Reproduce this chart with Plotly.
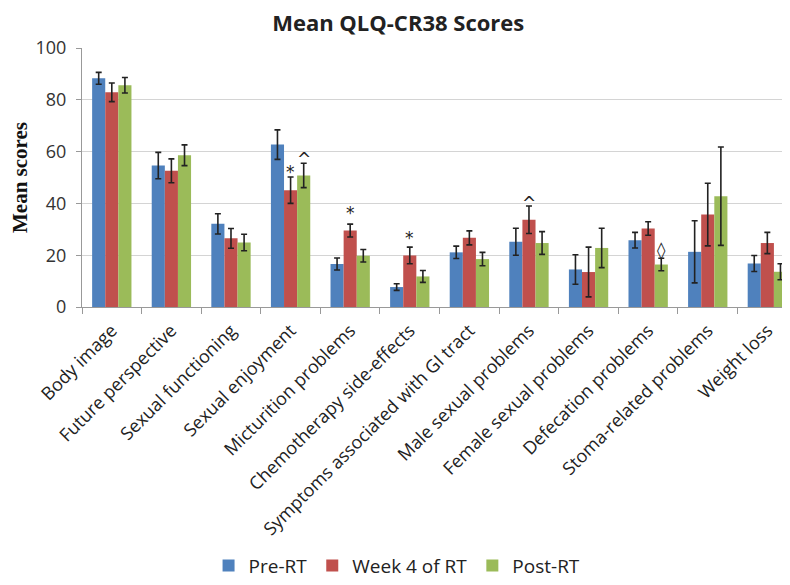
import plotly.graph_objects as go

categories = ["Body image", "Future perspective", "Sexual functioning", "Sexual enjoyment",
              "Micturition problems", "Chemotherapy side-effects", "Symptoms associated with GI tract",
              "Male sexual problems", "Female sexual problems", "Defecation problems",
              "Stoma-related problems", "Weight loss"]

pre_rt = [88.3, 54.6, 32.1, 62.7, 16.6, 7.7, 21.1, 25.2, 14.5, 25.8, 21.3, 16.8]
pre_rt_err = [2.3, 5.1, 3.9, 5.7, 2.3, 1.3, 2.4, 5.2, 5.7, 3.0, 12.0, 3.1]
week4 = [82.9, 52.6, 26.5, 45.1, 29.5, 19.9, 26.7, 33.7, 13.5, 30.3, 35.7, 24.7]
week4_err = [3.6, 4.6, 3.8, 5.1, 2.5, 3.2, 2.7, 5.3, 9.6, 2.6, 12.1, 4.1]
post_rt = [85.6, 58.6, 24.9, 50.8, 19.8, 11.8, 18.5, 24.7, 22.8, 16.4, 42.8, 13.6]
post_rt_err = [3.0, 4.0, 3.2, 4.7, 2.4, 2.3, 2.6, 4.4, 7.6, 2.4, 19.0, 3.1]

# significance markers
marker_cats = ["Sexual enjoyment", "Sexual enjoyment", "Micturition problems",
               "Chemotherapy side-effects", "Male sexual problems", "Defecation problems"]
marker_series = [0, 1, 0, 0, 0, 1]  # 0 = Week 4 of RT, 1 = Post-RT
marker_text = ["*", "^", "*", "*", "^", "◊"]
marker_y = [53.6, 58.7, 37.9, 28.2, 41.8, 23.4]

series = [("Pre-RT", pre_rt, pre_rt_err, "#4F81BD"),
          ("Week 4 of RT", week4, week4_err, "#C0504D"),
          ("Post-RT", post_rt, post_rt_err, "#9BBB59")]

fig = go.Figure()
for name, vals, errs, col in series:
    fig.add_trace(go.Bar(
        name=name, x=categories, y=vals, marker_color=col, marker_line_width=0,
        error_y=dict(type="data", array=errs, visible=True, color="#222222", thickness=1.6, width=3),
    ))

for c, s, t, yv in zip(marker_cats, marker_series, marker_text, marker_y):
    fig.add_annotation(x=c, y=yv, text=t, showarrow=False, xshift=13 * s, yshift=-4,
                       font=dict(family="DejaVu Sans", size=17, color="#222222"))

# the page body has an 8px margin, so the figure is sized/offset to compensate
fig.update_layout(
    width=782, height=577,
    margin=dict(l=74, r=0, t=40, b=278),
    paper_bgcolor="white", plot_bgcolor="white",
    barmode="group", bargap=0.34, bargroupgap=0,
    title=dict(text="<b>Mean QLQ-CR38 Scores</b>", x=0.499, xanchor="center", y=0.973, yanchor="middle",
               font=dict(family="Open Sans", size=22, color="#222222")),
    legend=dict(orientation="h", x=0.445, xanchor="center", y=-1.072, yanchor="bottom",
                font=dict(family="Open Sans", size=19, color="#222222"), itemwidth=30,
                traceorder="normal", borderwidth=0),
    font=dict(family="Open Sans", color="#333333"),
)

fig.update_xaxes(
    type="category", range=[-0.5, 11.38], tickangle=-45, tickson="boundaries",
    ticks="outside", ticklen=6, tickcolor="#999999",
    showline=True, linecolor="#999999", linewidth=1, ticklabelstandoff=5,
    tickfont=dict(family="Open Sans", size=18, color="#222222"),
    showgrid=False, automargin=False,
)
fig.update_yaxes(
    range=[0, 100], dtick=20, showgrid=True, gridcolor="#D4D4D4", gridwidth=1,
    showline=True, linecolor="#999999", linewidth=1, ticks="outside", ticklen=5, tickcolor="#999999",
    ticklabelstandoff=6,
    tickfont=dict(family="Open Sans", size=18, color="#333333"),
    title=dict(text="<b>Mean scores</b>", font=dict(family="Liberation Serif", size=21, color="#111111"),
               standoff=6),
    zeroline=False, automargin=False,
)

fig.write_html("out.html")
